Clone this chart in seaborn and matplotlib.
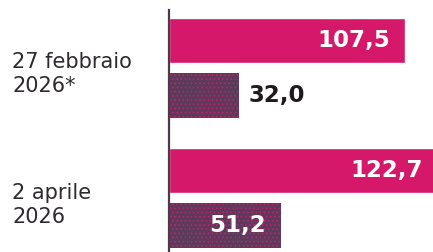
import matplotlib
matplotlib.use("Agg")
import matplotlib.pyplot as plt
import matplotlib.transforms as mtransforms
import pandas as pd
import seaborn as sns

# data
dates = ["27 febbraio\n2026*", "2 aprile\n2026"]
series = ["serie A", "serie B"]
values_a = [107.5, 122.7]
values_b = [32.0, 51.2]
value_labels_a = ["107,5", "122,7"]
value_labels_b = ["32,0", "51,2"]

PINK = "#D6186A"
PLUM = "#5B3A5B"

df = pd.DataFrame({
    "date": dates * 2,
    "series": [series[0]] * 2 + [series[1]] * 2,
    "value": values_a + values_b,
})

sns.set_style("white")
plt.rcParams["font.family"] = ["DejaVu Sans"]
plt.rcParams["hatch.linewidth"] = 0.7

fig = plt.figure(figsize=(4.33, 2.52), dpi=100)
ax = fig.add_axes([169 / 433, 0, 1 - 169 / 433, 242 / 252])

sns.barplot(data=df, x="value", y="date", hue="series", orient="h",
            palette=[PINK, PLUM], width=0.84, gap=0.18, legend=False,
            saturation=1, ax=ax)

# dotted texture on the second series
for bar in ax.containers[1]:
    bar.set_hatch("....")
    bar.set_edgecolor("#C81F6E")
    bar.set_linewidth(0)

ax.set_xlim(0, (433 - 169) / 2.195)
ax.set_ylim(1.415, -0.446)

for s in ["top", "right", "bottom"]:
    ax.spines[s].set_visible(False)
ax.spines["left"].set_color("#4A3A4A")
ax.spines["left"].set_linewidth(1.6)
ax.set_xticks([])
ax.set_yticks([])
ax.set_xlabel("")
ax.set_ylabel("")

# value labels
for cont, labels in zip(ax.containers, [value_labels_a, value_labels_b]):
    for bar, lab in zip(cont, labels):
        w = bar.get_width()
        yc = bar.get_y() + bar.get_height() / 2
        if w > 40:
            ax.annotate(lab, (w, yc), xytext=(-11, 0), textcoords="offset points",
                        ha="right", va="center", color="white",
                        fontsize=16.5, fontweight="bold", annotation_clip=False)
        else:
            ax.annotate(lab, (w, yc), xytext=(7, 0), textcoords="offset points",
                        ha="left", va="center", color="#1E1A1E",
                        fontsize=16.5, fontweight="bold", annotation_clip=False)

# category labels on the left
trans = mtransforms.blended_transform_factory(fig.transFigure, ax.transData)
for i, d in enumerate(dates):
    ax.text(12 / 433, i + 0.05, d, transform=trans, ha="left", va="center",
            fontsize=15, color="#2E2A2E", linespacing=1.25)

fig.savefig("out.png", dpi=100)
